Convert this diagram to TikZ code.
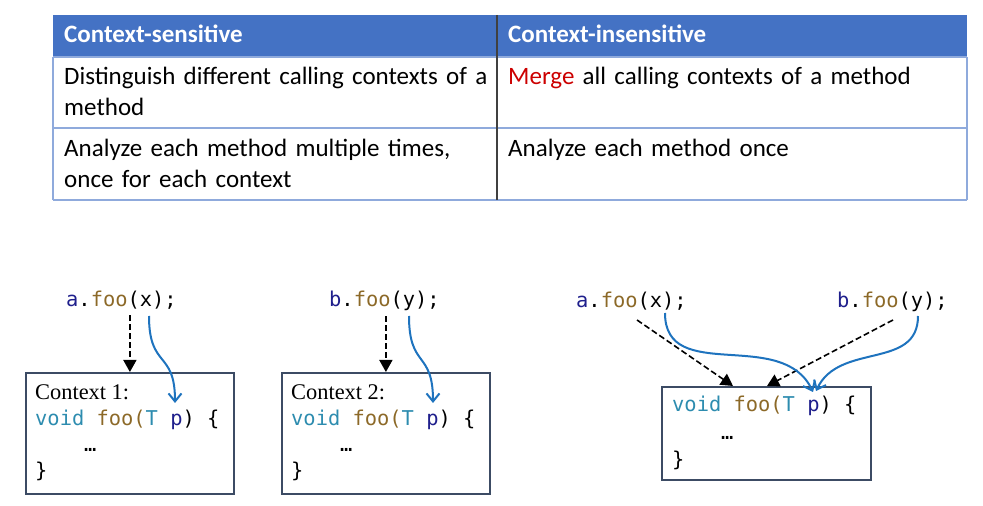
\documentclass[tikz,border=0pt]{standalone}
\usepackage{fontspec}
\setmainfont{Carlito}
\newfontfamily\codefont{DejaVu Sans Mono}
\newfontfamily\serifctx{Liberation Serif}
\usetikzlibrary{arrows.meta,calc}
\definecolor{hdrblue}{RGB}{68,114,196}
\definecolor{rowline}{RGB}{143,170,220}
\definecolor{divgray}{RGB}{64,64,64}
\definecolor{mergered}{RGB}{204,0,0}
\definecolor{cnavy}{RGB}{31,31,140}
\definecolor{cfoo}{RGB}{140,105,40}
\definecolor{cteal}{RGB}{45,140,175}
\definecolor{boxc}{RGB}{60,75,100}
\definecolor{arrblue}{RGB}{30,115,190}
\newcommand\fooCall[2]{\textcolor{cnavy}{#1}.\textcolor{cfoo}{foo}(#2);}
\newcommand\fooSig{\textcolor{cteal}{void} \textcolor{cfoo}{foo(}\textcolor{cteal}{T} \textcolor{cnavy}{p}) \{}
\tikzset{
  hdrtext/.style={anchor=base west, inner sep=0pt, text=white, font=\bfseries\fontsize{25}{30.5}\selectfont},
  celltext/.style={anchor=base west, inner sep=0pt, align=left, text width=440pt, font=\fontsize{25}{30.5}\selectfont},
  codetext/.style={anchor=base west, inner sep=0pt, font=\codefont\fontsize{20.4}{26}\selectfont},
  ctxtext/.style={anchor=base west, inner sep=0pt, font=\serifctx\fontsize{22.4}{26}\selectfont},
  codebox/.style={draw=boxc, line width=1.8pt, anchor=north west, inner sep=0pt, minimum width=208pt},
  dasharr/.style={draw=black, line width=1.6pt, dash pattern=on 6pt off 3pt, -{Triangle[length=12pt,width=13pt]}},
  bluearr/.style={draw=arrblue, line width=2pt, -{Straight Barb[length=8pt,width=13pt]}},
  rowrule/.style={draw=rowline, line width=1.2pt},
}
\begin{document}
\begin{tikzpicture}[x=1pt,y=1pt]
\useasboundingbox (0,0) rectangle (983,506);
% table
\fill[hdrblue] (53,449) rectangle (967,491);
\draw[rowrule] (53,449) -- (967,449);
\draw[rowrule] (53,378) -- (967,378);
\draw[rowrule] (53,306) -- (967,306);
\draw[rowrule] (53,449) -- (53,306);
\draw[rowrule] (967,449) -- (967,306);
\draw[divgray, line width=2pt] (497,491) -- (497,306);
\node[hdrtext] (h1) at (64,463) {Context-sensitive};
\node[hdrtext] (h2) at (508,463) {Context-insensitive};
\node[celltext] (c11) at (64,421) {Distinguish different calling contexts of a\\method};
\node[celltext] (c12) at (508,421) {\textcolor{mergered}{Merge} all calling contexts of a method};
\node[celltext] (c21) at (64,349) {Analyze each method multiple times,\\once for each context};
\node[celltext] (c22) at (508,349) {Analyze each method once};
% context 1
\node[codetext] (call1) at (66,199) {\fooCall{a}{x}};
\node[codebox, minimum height=121pt] (box1) at (25,134) {};
\node[ctxtext] (ctx1) at (35,106) {Context 1:};
\node[codetext] (sig1) at (35,80) {\fooSig};
\node[codetext] (dots1) at (84,54) {…};
\node[codetext] (end1) at (35,28) {\}};
\draw[dasharr] ([yshift=-5pt]call1.south -| box1.north) -- (box1.north);
\draw[bluearr] ($(call1.base west)+(83,-9)$) to[out=-90,in=90,looseness=1.5] ($(box1.north west)+(150,-31)$);
% context 2
\node[codetext] (call2) at (329,199) {\fooCall{b}{y}};
\node[codebox, minimum height=121pt] (box2) at (281,134) {};
\node[ctxtext] (ctx2) at (291,106) {Context 2:};
\node[codetext] (sig2) at (291,80) {\fooSig};
\node[codetext] (dots2) at (340,54) {…};
\node[codetext] (end2) at (291,28) {\}};
\draw[dasharr] ([yshift=-5pt]call2.south -| box2.north) -- (box2.north);
\draw[bluearr] ($(call2.base west)+(80,-9)$) to[out=-90,in=90,looseness=1.5] ($(box2.north west)+(152,-31)$);
% merged
\node[codetext] (call3a) at (576,198) {\fooCall{a}{x}};
\node[codetext] (call3b) at (837,198) {\fooCall{b}{y}};
\node[codebox, minimum width=209pt, minimum height=93pt] (box3) at (661,120) {};
\node[codetext] (sig3) at (672,94) {\fooSig};
\node[codetext] (dots3) at (721,66) {…};
\node[codetext] (end3) at (672,39) {\}};
\draw[dasharr] ($(call3a.base west)+(61,-12)$) -- ($(box3.north west)+(72,0)$);
\draw[dasharr] ($(call3b.base west)+(56,-12)$) -- ($(box3.north west)+(106,0)$);
\draw[bluearr] ($(call3a.base west)+(89,-5)$) to[out=-90,in=115,looseness=1.1] ($(box3.north west)+(152,-6)$);
\draw[bluearr] ($(call3b.base west)+(81,-8)$) to[out=-90,in=65,looseness=1.1] ($(box3.north west)+(155,-5)$);
\end{tikzpicture}
\end{document}
